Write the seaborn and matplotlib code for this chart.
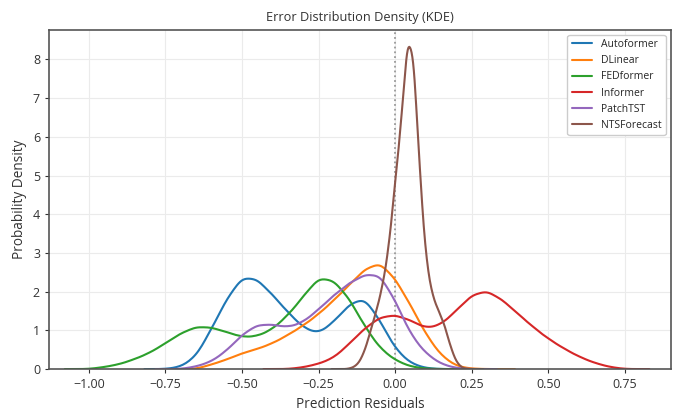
import numpy as np
import matplotlib.pyplot as plt
import seaborn as sns

# residual bins (centres) and number of residuals in each bin, per model
autoformer_bins = [-0.70, -0.65, -0.60, -0.55, -0.50, -0.45, -0.40, -0.35, -0.30,
                   -0.25, -0.20, -0.15, -0.10, -0.05, 0.00, 0.05, 0.10]
autoformer_counts = [5, 30, 100, 175, 232, 226, 185, 142, 103,
                     87, 118, 162, 181, 122, 50, 14, 2]

dlinear_bins = [-0.60, -0.55, -0.50, -0.45, -0.40, -0.35, -0.30, -0.25, -0.20,
                -0.15, -0.10, -0.05, 0.00, 0.05, 0.10, 0.15, 0.20, 0.25]
dlinear_counts = [12, 25, 42, 53, 68, 90, 115, 145, 182,
                  222, 264, 284, 240, 170, 92, 35, 7, 1]

fedformer_bins = [-0.95, -0.90, -0.85, -0.80, -0.75, -0.70, -0.65, -0.60, -0.55, -0.50, -0.45,
                  -0.40, -0.35, -0.30, -0.25, -0.20, -0.15, -0.10, -0.05, 0.00, 0.05, 0.10]
fedformer_counts = [5, 12, 25, 41, 65, 90, 107, 105, 93, 80, 82,
                    100, 135, 182, 232, 224, 178, 108, 52, 22, 6, 1]

informer_bins = [-0.30, -0.25, -0.20, -0.15, -0.10, -0.05, 0.00, 0.05, 0.10, 0.15, 0.20,
                 0.25, 0.30, 0.35, 0.40, 0.45, 0.50, 0.55, 0.60, 0.65, 0.70]
informer_counts = [5, 15, 32, 73, 118, 151, 158, 142, 117, 128, 170,
                   216, 229, 201, 162, 122, 88, 60, 36, 18, 6]

patchtst_bins = [-0.65, -0.60, -0.55, -0.50, -0.45, -0.40, -0.35, -0.30, -0.25,
                 -0.20, -0.15, -0.10, -0.05, 0.00, 0.05, 0.10, 0.15, 0.20]
patchtst_counts = [6, 18, 45, 85, 110, 110, 102, 115, 147,
                   182, 212, 233, 235, 170, 85, 38, 12, 2]

ntsforecast_bins = [-0.14, -0.12, -0.10, -0.08, -0.06, -0.04, -0.02, 0.00, 0.02, 0.04,
                    0.06, 0.08, 0.10, 0.12, 0.14, 0.16, 0.18, 0.20, 0.22]
ntsforecast_counts = [3, 13, 45, 100, 155, 220, 320, 490, 640, 875,
                      835, 520, 290, 195, 155, 120, 60, 17, 2]

models = ["Autoformer", "DLinear", "FEDformer", "Informer", "PatchTST", "NTSForecast"]
all_bins = [autoformer_bins, dlinear_bins, fedformer_bins, informer_bins, patchtst_bins, ntsforecast_bins]
all_counts = [autoformer_counts, dlinear_counts, fedformer_counts, informer_counts, patchtst_counts, ntsforecast_counts]
# kernel width in residual units
bandwidths = [0.03, 0.03, 0.03, 0.03, 0.03, 0.012]

sns.set_style("ticks", {"axes.grid": True, "grid.color": "#ebebeb", "axes.edgecolor": "#555555"})
plt.rcParams['font.family'] = ['Open Sans', 'DejaVu Sans']
colors = sns.color_palette("tab10", 6)

fig, ax = plt.subplots(figsize=(6.81, 4.11), dpi=100)
fig.subplots_adjust(left=0.072, right=0.985, bottom=0.102, top=0.928)

ax.axvline(0, color="#999999", linestyle=":", linewidth=1.3, zorder=1)
for name, bins, counts, h, c in zip(models, all_bins, all_counts, bandwidths, colors):
    bins = np.asarray(bins)
    counts = np.asarray(counts, dtype=float)
    sd = np.sqrt(np.cov(bins, aweights=counts))
    sns.kdeplot(x=bins, weights=counts, bw_method=h / sd, color=c, linewidth=1.5,
                label=name, ax=ax, zorder=2)

ax.set_xlim(-1.13, 0.90)
ax.set_ylim(0, 8.77)
ax.set_xticks([-1.0, -0.75, -0.5, -0.25, 0.0, 0.25, 0.5, 0.75])
ax.set_title("Error Distribution Density (KDE)", fontsize=9.2, color="#333333")
ax.set_xlabel("Prediction Residuals", fontsize=9.8, color="#333333")
ax.set_ylabel("Probability Density", fontsize=9.8, color="#333333")
ax.tick_params(labelsize=9, colors="#333333", length=3)
for s in ax.spines.values():
    s.set_linewidth(1.2)
ax.legend(loc="upper right", fontsize=7.5, frameon=True, edgecolor="#cccccc", framealpha=1)

plt.savefig("out.png", dpi=100)
